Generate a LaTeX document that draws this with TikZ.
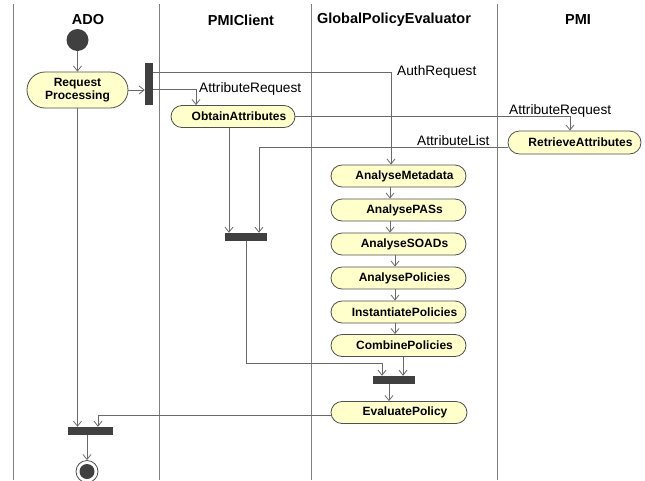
\documentclass[tikz,border=0pt]{standalone}
\usepackage{fontspec}
\setmainfont{Liberation Sans}
\usetikzlibrary{shapes.misc,arrows.meta,calc}
\definecolor{yellowfill}{HTML}{FFFFCC}
\definecolor{bardark}{HTML}{404040}
\definecolor{linegray}{HTML}{6A6A6A}
\definecolor{lanegray}{HTML}{808080}
\definecolor{edgegray}{HTML}{505050}
\begin{document}
\begin{tikzpicture}[x=1pt,y=-1pt,
 act/.style={rounded rectangle, draw=edgegray, fill=yellowfill, line width=0.8pt,
   minimum height=22pt, inner sep=0pt, font=\fontsize{12}{13.5}\selectfont\bfseries},
 shifted/.style={execute at begin node={\hspace*{12pt}}},
 bar/.style={rectangle, fill=bardark, draw=none, inner sep=0pt},
 flow/.style={draw=linegray, line width=0.8pt, -{Straight Barb[length=5pt,width=8pt]}},
 lane/.style={draw=lanegray, line width=1pt},
 lbl/.style={font=\fontsize{13.7}{15}\selectfont, inner sep=0pt},
 hdr/.style={font=\fontsize{14.5}{16}\selectfont\bfseries, inner sep=0pt}]

\useasboundingbox[fill=white] (0,0) rectangle (645,480);

% swimlanes
\draw[lane] (13,4) -- (13,480);
\draw[lane] (159,4) -- (159,480);
\draw[lane] (311,4) -- (311,480);
\draw[lane] (497,4) -- (497,480);

\node[hdr] (hado) at (88,20) {ADO};
\node[hdr] (hpmic) at (241,20) {PMIClient};
\node[hdr] (hgpe) at (394,20) {GlobalPolicyEvaluator};
\node[hdr] (hpmi) at (578,20) {PMI};

% nodes
\node[circle, fill=bardark, minimum size=22pt, inner sep=0pt] (start) at (77.5,40) {};
\node[act, minimum width=101pt, minimum height=36pt, align=center] (req) at (77.5,90) {Request\\Processing};
\node[bar, minimum width=8pt, minimum height=42pt] (fork) at (149,84) {};
\node[act, shifted, minimum width=124pt] (obtain) at (233,116.5) {ObtainAttributes};
\node[act, shifted, minimum width=133pt, minimum height=23pt] (retrieve) at (574.5,142.5) {RetrieveAttributes};

\node[act, shifted, minimum width=135pt] (meta) at (398.5,176) {AnalyseMetadata};
\node[act, shifted, minimum width=135pt] (pass) at (398.5,210) {AnalysePASs};
\node[act, shifted, minimum width=135pt] (soad) at (398.5,244) {AnalyseSOADs};
\node[act, shifted, minimum width=135pt] (pol) at (398.5,278) {AnalysePolicies};
\node[act, shifted, minimum width=135pt] (inst) at (398.5,312) {InstantiatePolicies};
\node[act, shifted, minimum width=135pt] (comb) at (398.5,345.5) {CombinePolicies};
\node[act, shifted, minimum width=136pt] (eval) at (399,412.5) {EvaluatePolicy};

\node[bar, minimum width=42pt, minimum height=8pt] (join1) at (246,237) {};
\node[bar, minimum width=42pt, minimum height=8pt] (join2) at (394,380) {};
\node[bar, minimum width=45pt, minimum height=8pt] (join3) at (90.5,431) {};

\node[circle, draw=edgegray, fill=white, line width=0.8pt, minimum size=22pt, inner sep=0pt] (end) at (87,471.5) {};
\node[circle, fill=bardark, minimum size=15pt, inner sep=0pt] (endin) at (end) {};

\coordinate (bend1) at (246,363);

% connectors
\draw[flow] (start) -- (req.north);
\draw[flow] (req.east) -- (req.east -| fork.west);

\draw[flow] ($(fork.east)+(0,-12)$) -| ([xshift=-7.5pt]meta.north);
\node[lbl, anchor=west] (authlbl) at (397,72) {AuthRequest};

\draw[flow] ($(fork.east)+(0,5)$) -| ([xshift=-37pt]obtain.north);
\node[lbl, anchor=west] (arlbl1) at (199,89) {AttributeRequest};

\draw[flow] (obtain.east) -| ([xshift=-4.5pt]retrieve.north);
\node[lbl, anchor=base west] (arlbl2) at (509,114.5) {AttributeRequest};

\draw[flow] ($(retrieve.west)+(0,5)$) -| ([xshift=13pt]join1.north);
\node[lbl, anchor=base west] (allbl) at (417,145) {AttributeList};

\draw[flow] ([xshift=-4pt]obtain.south) -- ([xshift=-4pt]obtain.south |- join1.north);

\draw[flow] ([xshift=-8.5pt]meta.south) -- ([xshift=-8.5pt]pass.north);
\draw[flow] ([xshift=-8.5pt]pass.south) -- ([xshift=-8.5pt]soad.north);
\draw[flow] ([xshift=-3.5pt]soad.south) -- ([xshift=-3.5pt]pol.north);
\draw[flow] ([xshift=-3.5pt]pol.south) -- ([xshift=-3.5pt]inst.north);
\draw[flow] ([xshift=-3.5pt]inst.south) -- ([xshift=-3.5pt]comb.north);

\draw[flow] (join1.south) -- (bend1) -| ([xshift=-12pt]join2.north);
\draw[flow] ([xshift=4.5pt]comb.south) -- ([xshift=4.5pt]comb.south |- join2.north);
\draw[flow] ([xshift=-5pt]join2.south) -- ([xshift=-5pt]join2.south |- eval.north);

\draw[flow] ($(eval.west)+(0,2.5)$) -| ([xshift=7.5pt]join3.north);
\draw[flow] (req.south) -- (req.south |- join3.north);
\draw[flow] (join3.south -| end) -- (end.north);
\end{tikzpicture}
\end{document}
